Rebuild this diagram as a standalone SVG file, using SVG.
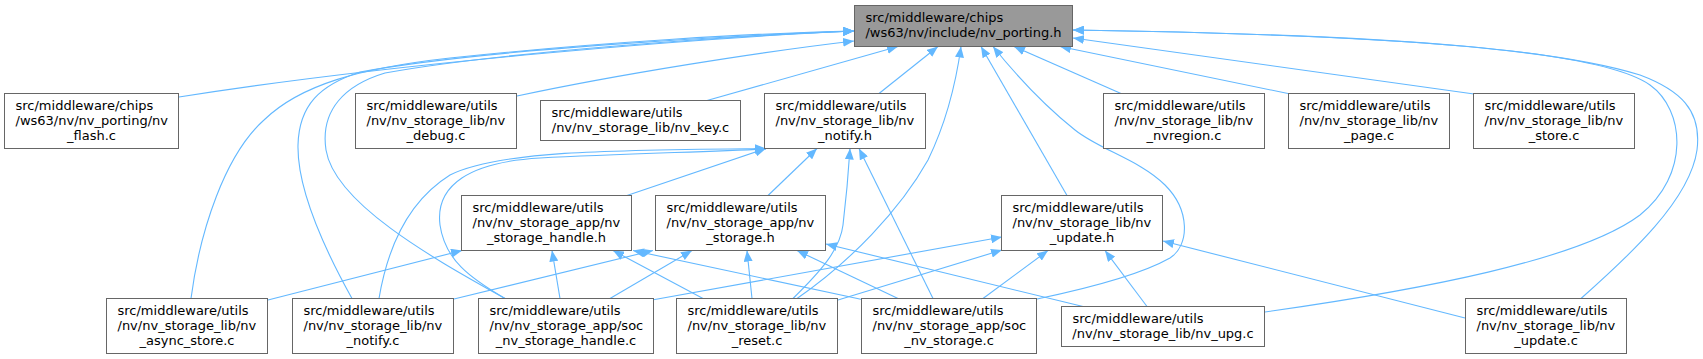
<svg xmlns="http://www.w3.org/2000/svg" width="1703" height="359" viewBox="0 0 1703 359">
<style>
.e{fill:none;stroke:#63b8ff;stroke-width:1.1;marker-end:url(#arr)}
.b{fill:#ffffff;stroke:#666666;stroke-width:1}
.r{fill:#999999;stroke:#666666;stroke-width:1}
text{font-family:"DejaVu Sans","Liberation Sans",sans-serif;font-size:13px;fill:#000000}
.m{text-anchor:middle}
</style>
<defs>
<marker id="arr" markerWidth="11" markerHeight="9" refX="11" refY="4.5" orient="auto" markerUnits="userSpaceOnUse">
<path d="M0,0 L11,4.5 L0,9 z" fill="#63b8ff"/>
</marker>
</defs>
<rect width="1703" height="359" fill="#ffffff"/>
<g id="edges">
<path class="e" d="M179,97 C400,62 700,38 854,31"/>
<path class="e" d="M517,96 C620,74 760,52 854,41"/>
<path class="e" d="M707,100.5 L898,46.5"/>
<path class="e" d="M879,93.5 L938,46.5"/>
<path class="e" d="M797,298.5 C850,262 900,210 928,160 C945,125 955,90 961,46.5"/>
<path class="e" d="M1067,195.5 L981,46.5"/>
<path class="e" d="M1037,299 C1080,290 1140,275 1170,258 C1190,245 1190,210 1165,185 C1140,160 1100,150 1075,130 C1050,110 1020,80 993,46.5"/>
<path class="e" d="M1121,93.5 L1014,46.5"/>
<path class="e" d="M1288,93.5 L1060,46.5"/>
<path class="e" d="M1474,94 L1073,38"/>
<path class="e" d="M1265,312 C1420,290 1580,260 1640,215 C1690,175 1685,110 1650,85 C1600,50 1400,35 1073,30"/>
<path class="e" d="M1581,298.5 C1630,255 1690,200 1697,150 C1702,110 1680,90 1640,75 C1560,50 1400,35 1073,30"/>
<path class="e" d="M191,298.5 C200,230 225,155 264,120 C300,85 360,68 450,58 C600,42 760,33 854,31"/>
<path class="e" d="M352,298.5 C325,250 297,190 298,145 C299,105 320,85 360,72 C480,50 720,36 854,31"/>
<path class="e" d="M505,298.5 C440,262 335,205 326,150 C320,110 345,85 385,73 C500,52 730,36 854,31"/>
<path class="e" d="M627,195.5 L766,148.5"/>
<path class="e" d="M379,298.5 C388,245 410,200 450,175 C500,150 620,150 766,148.5"/>
<path class="e" d="M505,298.5 C470,278 445,260 440,225 C435,185 470,162 540,158 C620,154 700,152 766,149"/>
<path class="e" d="M768,195.5 L817,148.5"/>
<path class="e" d="M793,298.5 C820,272 840,250 843,225 C846,200 848,180 850,148.5"/>
<path class="e" d="M933,298.5 L859,148.5"/>
<path class="e" d="M268,300 L462,250.5"/>
<path class="e" d="M560,298.5 L552,250.5"/>
<path class="e" d="M703,298.5 L613,250.5"/>
<path class="e" d="M862,299.5 L633,250.5"/>
<path class="e" d="M454,299 L653,250.5"/>
<path class="e" d="M610,298.5 L692,250.5"/>
<path class="e" d="M752,298.5 L747,250.5"/>
<path class="e" d="M898,298.5 L797,250.5"/>
<path class="e" d="M1083,306.5 L826,244"/>
<path class="e" d="M652,300 L1002,237"/>
<path class="e" d="M838,300 L1002,250"/>
<path class="e" d="M983,298.5 L1048,250.5"/>
<path class="e" d="M1147,306.5 L1105,250.5"/>
<path class="e" d="M1465,318 L1163,241"/>
</g>
<g id="node_root"><rect class="r" x="854.5" y="5.5" width="218" height="41"/><text x="865.5" y="21.5">src/middleware/chips</text><text class="m" x="963.5" y="36.5">/ws63/nv/include/nv_porting.h</text></g>
<g id="node_flash"><rect class="b" x="4.5" y="93.5" width="174" height="55"/><text x="15.5" y="109.5">src/middleware/chips</text><text x="15.5" y="124.5">/ws63/nv/nv_porting/nv</text><text class="m" x="91.5" y="139.5">_flash.c</text></g>
<g id="node_debug"><rect class="b" x="355.5" y="93.5" width="161" height="55"/><text x="366.5" y="109.5">src/middleware/utils</text><text x="366.5" y="124.5">/nv/nv_storage_lib/nv</text><text class="m" x="436" y="139.5">_debug.c</text></g>
<g id="node_key"><rect class="b" x="540.5" y="100.5" width="200" height="40"/><text x="551.5" y="116.5">src/middleware/utils</text><text class="m" x="640.5" y="131.5">/nv/nv_storage_lib/nv_key.c</text></g>
<g id="node_notify_h"><rect class="b" x="764.5" y="93.5" width="161" height="55"/><text x="775.5" y="109.5">src/middleware/utils</text><text x="775.5" y="124.5">/nv/nv_storage_lib/nv</text><text class="m" x="845" y="139.5">_notify.h</text></g>
<g id="node_nvregion"><rect class="b" x="1103.5" y="93.5" width="161" height="55"/><text x="1114.5" y="109.5">src/middleware/utils</text><text x="1114.5" y="124.5">/nv/nv_storage_lib/nv</text><text class="m" x="1184" y="139.5">_nvregion.c</text></g>
<g id="node_page"><rect class="b" x="1288.5" y="93.5" width="161" height="55"/><text x="1299.5" y="109.5">src/middleware/utils</text><text x="1299.5" y="124.5">/nv/nv_storage_lib/nv</text><text class="m" x="1369" y="139.5">_page.c</text></g>
<g id="node_store"><rect class="b" x="1473.5" y="93.5" width="161" height="55"/><text x="1484.5" y="109.5">src/middleware/utils</text><text x="1484.5" y="124.5">/nv/nv_storage_lib/nv</text><text class="m" x="1554" y="139.5">_store.c</text></g>
<g id="node_storage_handle_h"><rect class="b" x="461.5" y="195.5" width="170" height="55"/><text x="472.5" y="211.5">src/middleware/utils</text><text x="472.5" y="226.5">/nv/nv_storage_app/nv</text><text class="m" x="546.5" y="241.5">_storage_handle.h</text></g>
<g id="node_storage_h"><rect class="b" x="655.5" y="195.5" width="170" height="55"/><text x="666.5" y="211.5">src/middleware/utils</text><text x="666.5" y="226.5">/nv/nv_storage_app/nv</text><text class="m" x="740.5" y="241.5">_storage.h</text></g>
<g id="node_update_h"><rect class="b" x="1001.5" y="195.5" width="161" height="55"/><text x="1012.5" y="211.5">src/middleware/utils</text><text x="1012.5" y="226.5">/nv/nv_storage_lib/nv</text><text class="m" x="1082" y="241.5">_update.h</text></g>
<g id="node_async"><rect class="b" x="106.5" y="298.5" width="161" height="55"/><text x="117.5" y="314.5">src/middleware/utils</text><text x="117.5" y="329.5">/nv/nv_storage_lib/nv</text><text class="m" x="187" y="344.5">_async_store.c</text></g>
<g id="node_notify_c"><rect class="b" x="292.5" y="298.5" width="161" height="55"/><text x="303.5" y="314.5">src/middleware/utils</text><text x="303.5" y="329.5">/nv/nv_storage_lib/nv</text><text class="m" x="373" y="344.5">_notify.c</text></g>
<g id="node_soc_handle"><rect class="b" x="478.5" y="298.5" width="175" height="55"/><text x="489.5" y="314.5">src/middleware/utils</text><text x="489.5" y="329.5">/nv/nv_storage_app/soc</text><text class="m" x="566" y="344.5">_nv_storage_handle.c</text></g>
<g id="node_reset"><rect class="b" x="676.5" y="298.5" width="161" height="55"/><text x="687.5" y="314.5">src/middleware/utils</text><text x="687.5" y="329.5">/nv/nv_storage_lib/nv</text><text class="m" x="757" y="344.5">_reset.c</text></g>
<g id="node_soc_storage"><rect class="b" x="861.5" y="298.5" width="175" height="55"/><text x="872.5" y="314.5">src/middleware/utils</text><text x="872.5" y="329.5">/nv/nv_storage_app/soc</text><text class="m" x="949" y="344.5">_nv_storage.c</text></g>
<g id="node_upg"><rect class="b" x="1061.5" y="306.5" width="203" height="40"/><text x="1072.5" y="322.5">src/middleware/utils</text><text class="m" x="1163" y="337.5">/nv/nv_storage_lib/nv_upg.c</text></g>
<g id="node_update_c"><rect class="b" x="1465.5" y="298.5" width="161" height="55"/><text x="1476.5" y="314.5">src/middleware/utils</text><text x="1476.5" y="329.5">/nv/nv_storage_lib/nv</text><text class="m" x="1546" y="344.5">_update.c</text></g>
</svg>
